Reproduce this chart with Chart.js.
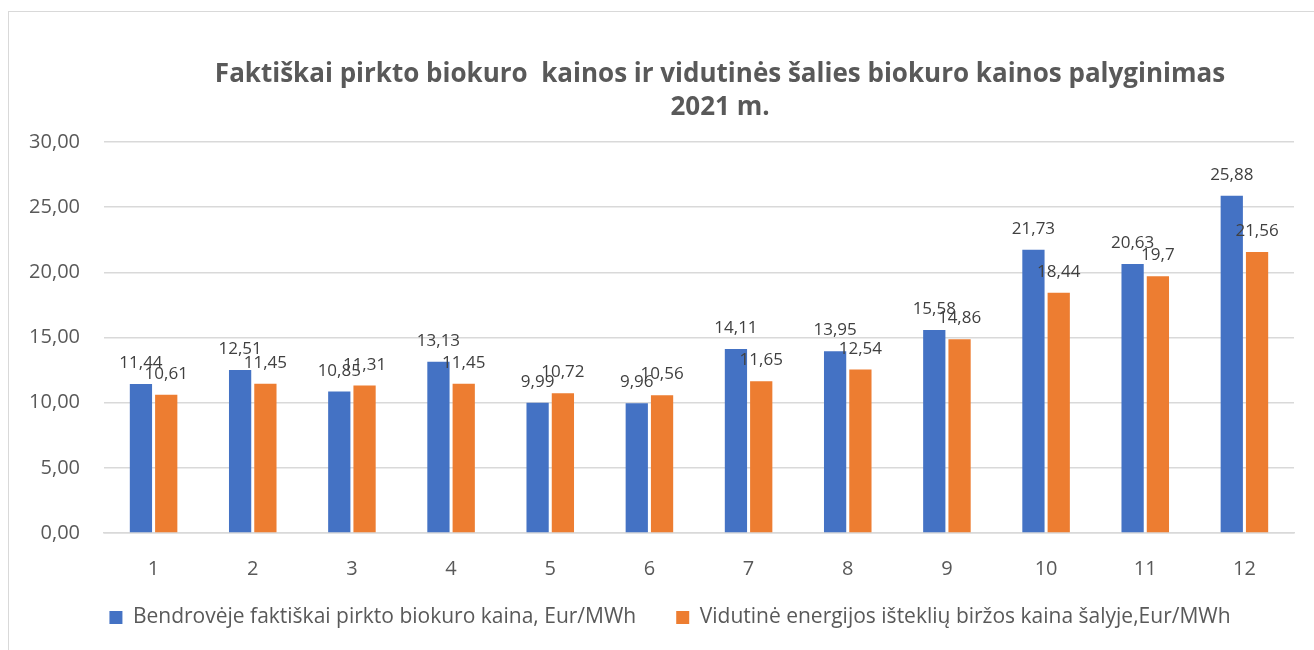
<!DOCTYPE html>
<html>
<head>
<meta charset="utf-8">
<script src="https://cdn.jsdelivr.net/npm/chart.js@4.4.0/dist/chart.umd.min.js"></script>
<style>
  html, body { margin: 0; padding: 0; background: #fff; overflow: hidden; }
  #frame { position: absolute; left: 8px; top: 11px; width: 1400px; height: 700px; border: 1px solid #D9D9D9; }
  #wrap { position: absolute; left: 0; top: 0; width: 1314px; height: 650px; }
</style>
</head>
<body>
<div id="frame"></div>
<div id="wrap"><canvas id="kainos"></canvas></div>
<script>
(function () {
    // Duomenys
    const labels = ['1', '2', '3', '4', '5', '6', '7', '8', '9', '10', '11', '12'];
    const bendroves = [11.44, 12.51, 10.85, 13.13, 9.99, 9.96, 14.11, 13.95, 15.58, 21.73, 20.63, 25.88];
    const birzos = [10.61, 11.45, 11.31, 11.45, 10.72, 10.56, 11.65, 12.54, 14.86, 18.44, 19.7, 21.56];
    const titleLines = ['Faktiškai pirkto biokuro  kainos ir vidutinės šalies biokuro kainos palyginimas', '2021 m.'];

    const FONT = "'Open Sans', sans-serif";

    // reikšmės virš stulpelių
    const valueLabels = {
        id: 'valueLabels',
        afterDatasetsDraw(chart) {
            const ctx = chart.ctx;
            ctx.save();
            ctx.font = '17px ' + FONT;
            ctx.fillStyle = '#404040';
            ctx.textAlign = 'center';
            ctx.textBaseline = 'alphabetic';
            chart.data.datasets.forEach((ds, i) => {
                chart.getDatasetMeta(i).data.forEach((bar, j) => {
                    const txt = String(ds.data[j]).replace('.', ',');
                    ctx.fillText(txt, bar.x, bar.y - 16);
                });
            });
            ctx.restore();
        }
    };

    // pavadinimas
    const chartTitle = {
        id: 'chartTitle',
        afterDraw(chart) {
            const ctx = chart.ctx;
            ctx.save();
            ctx.font = 'bold 26px ' + FONT;
            ctx.fillStyle = '#595959';
            ctx.textAlign = 'center';
            ctx.textBaseline = 'middle';
            ctx.fillText(titleLines[0], 720, 75);
            ctx.fillText(titleLines[1], 720, 108);
            ctx.restore();
        }
    };

    // legenda kiek dešiniau ir aukščiau
    const legendShift = {
        id: 'legendShift',
        afterLayout(chart) {
            const lg = chart.legend;
            lg.left += 13; lg.right += 13;
            lg.top -= 12; lg.bottom -= 12;
        }
    };

    const ctx = document.getElementById('kainos').getContext('2d');
    new Chart(ctx, {
        type: 'bar',
        data: {
            labels: labels,
            datasets: [
                {
                    label: 'Bendrovėje faktiškai pirkto biokuro kaina, Eur/MWh',
                    data: bendroves,
                    backgroundColor: '#4472C4',
                    categoryPercentage: 0.51,
                    barPercentage: 0.88
                },
                {
                    label: 'Vidutinė energijos išteklių biržos kaina šalyje,Eur/MWh',
                    data: birzos,
                    backgroundColor: '#ED7D31',
                    categoryPercentage: 0.51,
                    barPercentage: 0.88
                }
            ]
        },
        options: {
            responsive: true,
            maintainAspectRatio: false,
            animation: false,
            layout: {
                padding: { left: 20, right: 20, top: 142, bottom: 0 }
            },
            plugins: {
                title: { display: false },
                tooltip: { enabled: false },
                legend: {
                    position: 'bottom',
                    labels: {
                        boxWidth: 13,
                        boxHeight: 13,
                        padding: 40,
                        color: '#595959',
                        font: { family: FONT, size: 21 }
                    }
                }
            },
            scales: {
                x: {
                    grid: { display: false },
                    border: { display: true, color: '#D9D9D9', width: 1.5 },
                    ticks: {
                        color: '#595959',
                        padding: 16,
                        font: { family: FONT, size: 20 }
                    },
                    afterFit: function (axis) { axis.height = 46; }
                },
                y: {
                    min: 0,
                    max: 30,
                    grid: { color: '#D9D9D9', lineWidth: 1.5, drawTicks: false },
                    border: { display: false },
                    ticks: {
                        stepSize: 5,
                        color: '#595959',
                        padding: 24,
                        font: { family: FONT, size: 20 },
                        callback: function (value) {
                            return value.toFixed(2).replace('.', ',');
                        }
                    },
                    afterFit: function (axis) { axis.width = 84; }
                }
            }
        },
        plugins: [valueLabels, chartTitle, legendShift]
    });
})();
</script>
</body>
</html>
